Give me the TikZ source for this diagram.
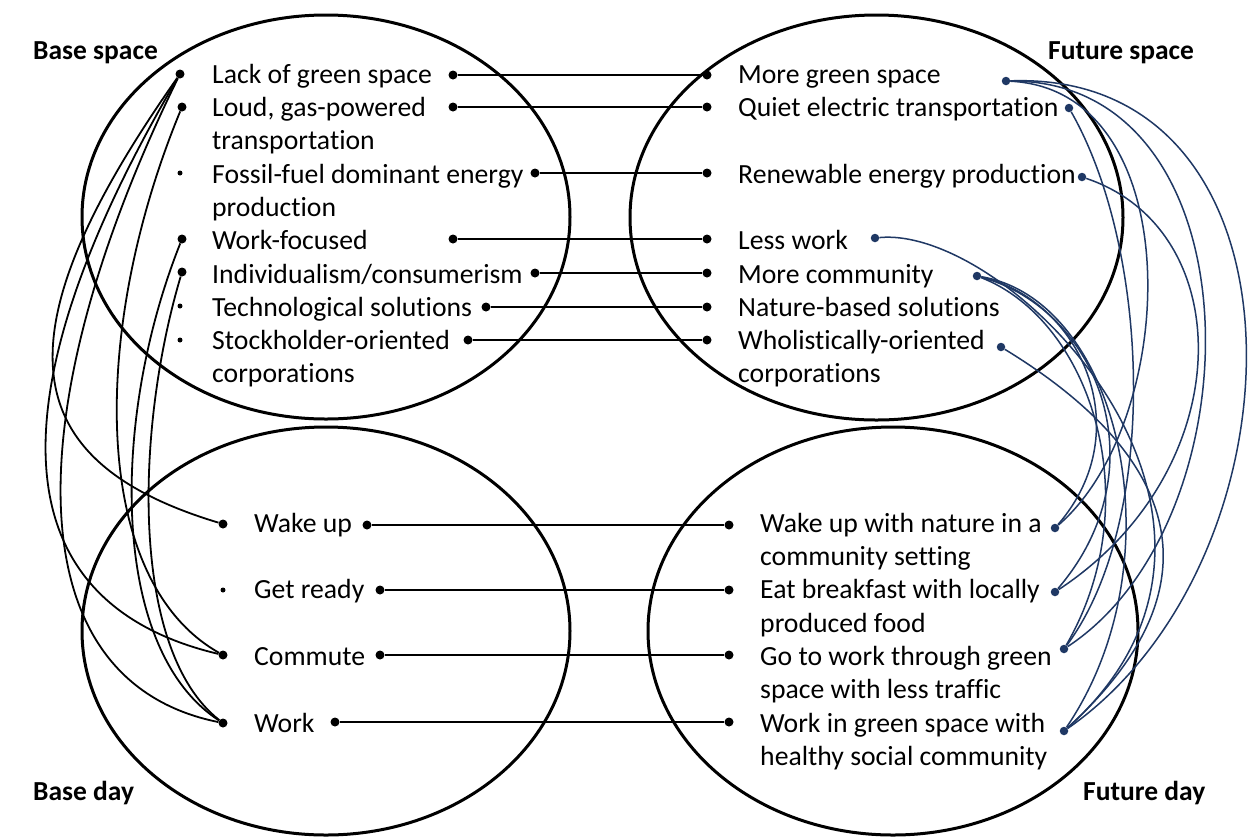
\documentclass[tikz,border=0pt]{standalone}
\usepackage{fontspec}
\setmainfont[Ligatures=NoCommon]{Carlito}
\definecolor{navy}{RGB}{31,56,100}
\begin{document}
\begin{tikzpicture}[x=1pt,y=-1pt,
 ell/.style={line width=3pt},
 dotk/.style={circle,fill=black,inner sep=0pt,minimum size=9pt},
 bul/.style={circle,fill=black,inner sep=0pt,minimum size=5pt},
 dotn/.style={circle,fill=navy,inner sep=0pt,minimum size=8.5pt},
 lk/.style={line width=2.2pt},
 cb/.style={line width=1.8pt},
 cn/.style={line width=1.5pt,draw=navy},
 txt/.style={anchor=base west,inner sep=0pt,font=\fontsize{27.7}{33}\selectfont},
 lab/.style={anchor=base west,inner sep=0pt,font=\fontsize{27.5}{33}\selectfont\bfseries}]
\useasboundingbox[fill=white] (0,0) rectangle (1251,839);

% ellipses
\draw[ell] (326,217) ellipse [x radius=244, y radius=202];
\draw[ell] (876.5,217.5) ellipse [x radius=246.5, y radius=202.5];
\draw[ell] (326,631) ellipse [x radius=244, y radius=204];
\draw[ell] (893,631) ellipse [x radius=245, y radius=204];

% labels
\node[lab] (lbs) at (33,59) {Base space};
\node[lab] (lfs) at (1048,59) {Future space};
\node[lab] (lbd) at (33,800) {Base day};
\node[lab] (lfd) at (1083,800) {Future day};

% top-left texts
\node[txt] (ta1) at (212,83) {Lack of green space};
\node[txt] (ta2) at (212,116.5) {Loud, gas-powered};
\node[txt] (ta2b) at (212,149.5) {transportation};
\node[txt] (ta3) at (212,183) {Fossil-fuel dominant energy};
\node[txt] (ta3b) at (212,216) {production};
\node[txt] (ta4) at (212,249.5) {Work-focused};
\node[txt] (ta5) at (212,283) {Individualism/consumerism};
\node[txt] (ta6) at (212,316) {Technological solutions};
\node[txt] (ta7) at (212,349.5) {Stockholder-oriented};
\node[txt] (ta7b) at (212,382.5) {corporations};

% top-right texts
\node[txt] (tb1) at (738,83) {More green space};
\node[txt] (tb2) at (738,116.5) {Quiet electric transportation};
\node[txt] (tb3) at (738,183) {Renewable energy production};
\node[txt] (tb4) at (738,249.5) {Less work};
\node[txt] (tb5) at (738,283) {More community};
\node[txt] (tb6) at (738,316) {Nature-based solutions};
\node[txt] (tb7) at (738,349.5) {Wholistically-oriented};
\node[txt] (tb7b) at (738,382.5) {corporations};

% bottom-left texts
\node[txt] (tc1) at (254,532) {Wake up};
\node[txt] (tc2) at (254,598) {Get ready};
\node[txt] (tc3) at (254,665) {Commute};
\node[txt] (tc4) at (254,732) {Work};

% bottom-right texts
\node[txt] (td1) at (760,532) {Wake up with nature in a};
\node[txt] (td1b) at (760,565) {community setting};
\node[txt] (td2) at (760,598) {Eat breakfast with locally};
\node[txt] (td2b) at (760,632) {produced food};
\node[txt] (td3) at (760,665) {Go to work through green};
\node[txt] (td3b) at (760,698) {space with less traffic};
\node[txt] (td4) at (760,732) {Work in green space with};
\node[txt] (td4b) at (760,765) {healthy social community};

% dots: top-left
\node[dotk] (a1) at (180,74) {};
\node[dotk] (a2) at (182,107) {};
\node[bul]  (a3) at (180,173) {};
\node[dotk] (a4) at (182,239) {};
\node[dotk] (a5) at (182,272) {};
\node[bul]  (a6) at (180,306) {};
\node[bul]  (a7) at (180,340) {};
\node[dotk] (ar1) at (453,75) {};
\node[dotk] (ar2) at (453,107) {};
\node[dotk] (ar3) at (535,173) {};
\node[dotk] (ar4) at (453,239) {};
\node[dotk] (ar5) at (535,273) {};
\node[dotk] (ar6) at (486,307) {};
\node[dotk] (ar7) at (468,340) {};
% top-right
\node[dotk] (b1) at (707,75) {};
\node[dotk] (b2) at (707,107) {};
\node[dotk] (b3) at (707,173) {};
\node[dotk] (b4) at (707,239) {};
\node[dotk] (b5) at (707,273) {};
\node[dotk] (b6) at (707,307) {};
\node[dotk] (b7) at (707,340) {};
\node[dotn] (g) at (1006,81) {};
\node[dotn] (q) at (1069,108) {};
\node[dotn] (r) at (1082,177) {};
\node[dotn] (l) at (875,238) {};
\node[dotn] (c) at (977,276) {};
\node[dotn] (w) at (1001,347) {};
% bottom-left
\node[dotk] (c1) at (223,524) {};
\node[bul]  (c2) at (223,590) {};
\node[dotk] (c3) at (223,655) {};
\node[dotk] (c4) at (223,723) {};
\node[dotk] (cr1) at (367,525) {};
\node[dotk] (cr2) at (380,590) {};
\node[dotk] (cr3) at (380,655) {};
\node[dotk] (cr4) at (335,722) {};
% bottom-right
\node[dotk] (d1) at (729,525) {};
\node[dotk] (d2) at (729,590) {};
\node[dotk] (d3) at (729,655) {};
\node[dotk] (d4) at (729,722) {};
\node[dotn] (bw) at (1055,528) {};
\node[dotn] (be) at (1055,592) {};
\node[dotn] (bg) at (1064,649) {};
\node[dotn] (bk) at (1064,731) {};

% straight connectors
\draw[lk] (ar1) -- (b1);
\draw[lk] (ar2) -- (b2);
\draw[lk] (ar3) -- (b3);
\draw[lk] (ar4) -- (b4);
\draw[lk] (ar5) -- (b5);
\draw[lk] (ar6) -- (b6);
\draw[lk] (ar7) -- (b7);
\draw[lk] (cr1) -- (d1);
\draw[lk] (cr2) -- (d2);
\draw[lk] (cr3) -- (d3);
\draw[lk] (cr4) -- (d4);

% black curves (base space -> base day)
\draw[cb] (a1) .. controls (0,330) and (10,460) .. (c1);
\draw[cb] (a1) .. controls (0,380) and (-10,600) .. (c3);
\draw[cb] (a1) .. controls (20,400) and (10,680) .. (c4);
\draw[cb] (a2) .. controls (90,330) and (90,580) .. (c3);
\draw[cb] (a4) .. controls (110,420) and (110,650) .. (c4);
\draw[cb] (a5) .. controls (135,430) and (130,650) .. (c4);

% blue curves (future space -> future day)
\draw[cn] (g) .. controls (1320,70) and (1310,560) .. (bk);
\draw[cn] (g) .. controls (1260,80) and (1260,520) .. (bg);
\draw[cn] (g) .. controls (1190,90) and (1180,420) .. (bw);
\draw[cn] (q) .. controls (1150,250) and (1160,520) .. (bg);
\draw[cn] (r) .. controls (1240,230) and (1240,470) .. (be);
\draw[cn] (l) .. controls (1010,225) and (1300,520) .. (bk);
\draw[cn] (c) .. controls (1080,300) and (1140,430) .. (bw);
\draw[cn] (c) .. controls (1100,310) and (1160,470) .. (be);
\draw[cn] (c) .. controls (1090,320) and (1150,500) .. (bg);
\draw[cn] (c) .. controls (1120,300) and (1180,560) .. (bk);
\draw[cn] (w) .. controls (1170,450) and (1230,580) .. (bk);
\end{tikzpicture}
\end{document}
